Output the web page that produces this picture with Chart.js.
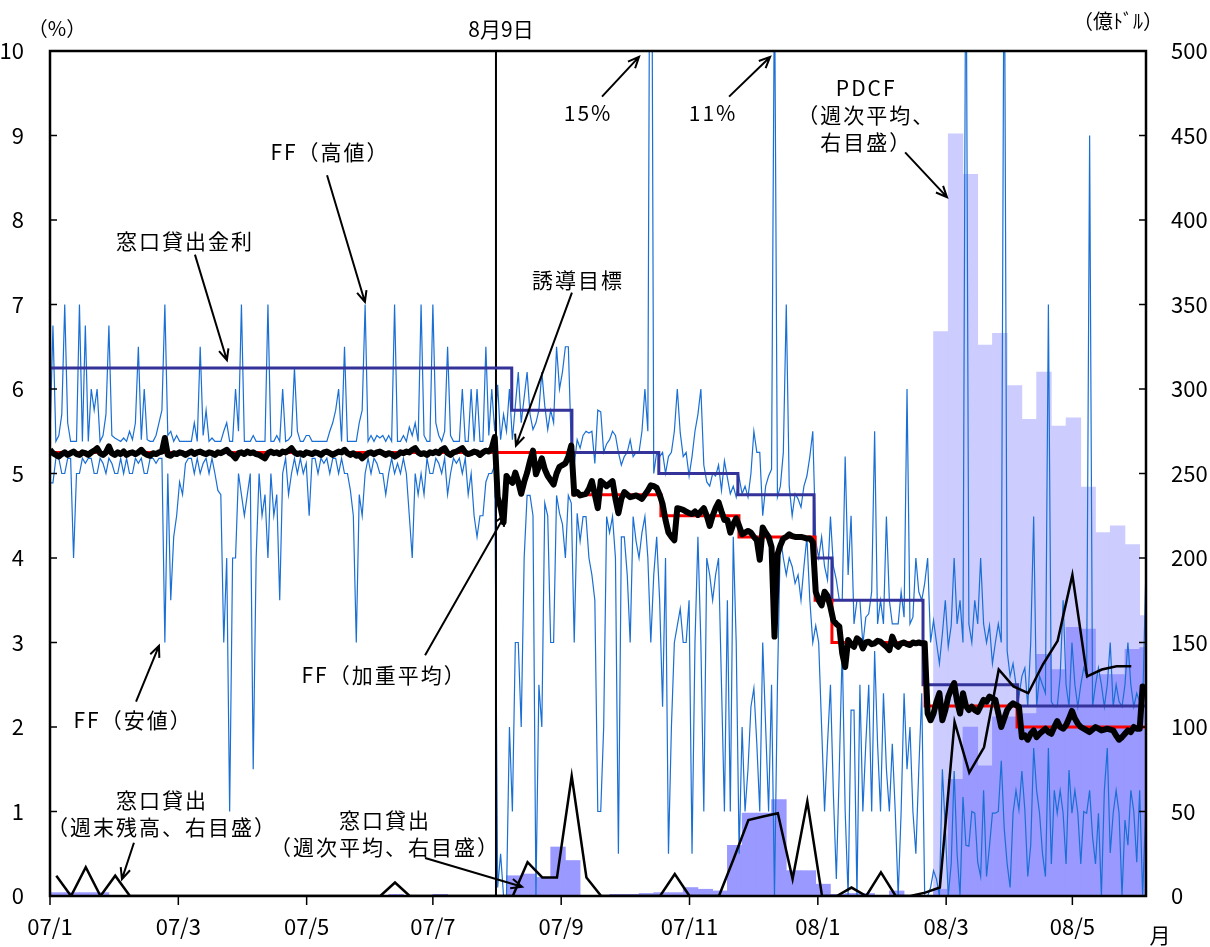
<!DOCTYPE html>
<html>
<head>
<meta charset="utf-8">
<script src="https://cdn.jsdelivr.net/npm/chart.js@4.4.1/dist/chart.umd.min.js"></script>
<style>
  html, body { margin: 0; padding: 0; background: #fff; }
  #wrap { width: 1210px; height: 947px; }
</style>
</head>
<body>
<div id="wrap"><canvas id="chart" width="1210" height="947"></canvas></div>
<script>
// x axis runs in day units; one business day of FF data every DAY units
var DAY = 1.4;
var WEEK = 7;
var AUG9 = 212;

var xTickPos = [0, 61, 122, 182, 243, 304, 365, 426, 486];
var xTickLabels = ['07/1', '07/3', '07/5', '07/7', '07/9', '07/11', '08/1', '08/3', '08/5'];

// FF high (%), daily
var ffHigh = [
  5.43, 6.75, 5.38, 5.45, 5.7, 7.0, 5.6, 5.38, 5.38, 5.38,
  7.0, 5.38, 6.75, 5.38, 6.0, 5.75, 6.0, 5.38, 5.45, 5.7,
  6.75, 5.45, 5.42, 5.4, 5.38, 5.42, 5.38, 5.5, 5.4, 5.6,
  6.5, 5.4, 6.0, 5.4, 5.38, 5.38, 5.45, 5.6, 5.75, 7.0,
  5.45, 5.5, 5.38, 5.45, 5.38, 5.38, 5.38, 5.38, 5.38, 5.6,
  5.38, 6.5, 5.45, 5.75, 5.38, 5.42, 5.38, 5.38, 5.38, 5.5,
  5.6, 5.38, 5.38, 6.0, 5.5, 7.0, 5.38, 5.38, 5.38, 5.45,
  5.38, 5.38, 5.38, 5.38, 7.0, 5.38, 5.38, 5.45, 5.38, 6.0,
  5.38, 5.4, 5.45, 6.25, 5.5, 5.38, 5.38, 5.45, 5.45, 5.38,
  5.38, 5.38, 5.38, 5.38, 5.38, 5.5, 5.6, 5.75, 6.0, 5.38,
  6.5, 5.38, 5.38, 5.38, 5.38, 5.6, 5.75, 7.0, 5.38, 5.45,
  5.38, 5.45, 5.42, 5.45, 5.38, 5.45, 5.38, 7.0, 5.38, 5.38,
  5.45, 5.38, 5.55, 5.45, 5.6, 5.38, 7.0, 5.45, 5.38, 5.38,
  7.0, 5.6, 5.45, 5.38, 5.5, 6.5, 5.45, 5.38, 5.38, 5.38,
  6.0, 5.38, 5.38, 6.0, 5.38, 6.0, 5.38, 5.38, 6.5, 5.45,
  6.0, 5.5, 6.05, 5.4, 5.7, 5.5, 6.0, 5.4, 5.8, 6.2,
  5.6, 5.9, 6.2, 5.7, 5.52, 5.6, 5.75, 6.2, 5.8, 5.52,
  5.75, 5.6, 6.5, 6.0, 6.2, 6.5, 6.5, 5.3, 5.1, 5.4,
  5.3, 5.45, 5.5, 5.48, 5.5, 5.12, 5.75, 5.73, 5.25, 5.35,
  5.4, 5.5, 5.45, 5.25, 5.1, 5.2, 5.25, 5.4, 5.2, 5.25,
  5.25, 5.5, 6.0, 5.5, 15, 5.0, 5.25, 5.2, 5.25, 5.0,
  5.2, 5.25, 5.5, 6.0, 5.48, 5.2, 5.25, 4.97, 5.2, 5.5,
  5.7, 6.0, 5.1, 4.9, 4.85, 5.0, 4.97, 5.1, 4.8, 5.15,
  4.95, 4.76, 4.85, 4.72, 4.95, 4.76, 4.85, 4.72, 5.0, 5.5,
  5.25, 5.25, 4.5, 4.85, 4.97, 5.05, 11, 4.72, 4.85, 5.25,
  7.0, 4.85, 4.5, 4.76, 4.7, 4.6, 4.85, 4.97, 5.2, 5.5,
  4.2, 4.0, 4.25, 3.9, 3.74, 4.49, 3.9, 3.74, 3.5, 3.5,
  5.2, 3.8, 4.5, 3.22, 3.5, 3.5, 2.98, 3.3, 3.34, 3.6,
  5.5, 3.22, 3.5, 3.22, 4.49, 3.5, 3.22, 3.22, 3.22, 3.6,
  3.3, 6.0, 3.22, 3.3, 4.0, 3.6, 3.5, 3.7, 4.0, 3.0,
  3.26, 3.0, 2.75, 3.1, 3.5, 2.95, 3.2, 4.0, 3.22, 3.5,
  3.0, 12, 3.22, 3.0, 3.5, 3.22, 4.0, 3.22, 3.0, 3.2,
  2.75, 3.0, 3.22, 3.0, 12, 2.9, 2.6, 2.75, 2.5, 2.36,
  2.6, 2.7, 2.24, 3.0, 4.49, 2.24, 2.6, 2.5, 2.4, 7.0,
  2.3, 2.24, 2.24, 2.6, 3.5, 2.5, 2.24, 3.0, 2.5, 2.24,
  2.5, 2.7, 2.6, 9.0, 2.24, 2.5, 2.7, 2.5, 2.24, 2.5,
  3.0, 2.24, 2.5, 2.3, 2.24, 2.5, 3.0, 2.5, 2.24, 2.4,
  2.3, 2.24, 3.7
];

// FF low (%), daily
var ffLow = [
  4.89, 4.89, 5.18, 5.18, 5.0, 5.0, 5.18, 5.18, 4.0, 5.0,
  5.0, 5.18, 5.12, 5.18, 5.18, 5.0, 5.0, 5.18, 5.12, 5.0,
  5.18, 5.12, 5.0, 5.0, 5.18, 5.0, 5.18, 5.0, 5.0, 5.18,
  5.12, 5.18, 5.0, 5.0, 5.18, 5.18, 5.12, 5.18, 5.18, 3.0,
  5.0, 3.5, 4.25, 4.5, 4.9, 4.75, 5.12, 5.18, 5.18, 5.0,
  5.18, 5.0, 5.12, 5.18, 5.0, 5.18, 5.0, 4.8, 4.75, 3.0,
  4.0, 1.0, 4.0, 4.0, 5.0, 4.75, 4.5, 4.75, 5.0, 1.5,
  4.0, 5.0, 4.5, 4.75, 4.0, 5.0, 4.5, 4.75, 3.5, 5.0,
  5.18, 4.75, 5.0, 5.18, 5.0, 5.18, 5.0, 5.12, 4.5, 5.18,
  5.18, 5.0, 5.18, 5.12, 5.18, 5.0, 5.18, 5.18, 5.0, 5.18,
  5.0, 5.0, 4.8, 4.5, 3.0, 4.75, 4.5, 5.0, 5.18, 5.0,
  5.18, 5.12, 5.0, 5.0, 4.75, 5.0, 5.18, 5.0, 5.12, 5.0,
  5.18, 5.0, 4.5, 4.0, 5.0, 4.75, 5.0, 4.75, 5.18, 5.0,
  5.0, 5.18, 5.12, 5.0, 5.18, 4.75, 5.0, 5.18, 5.12, 5.18,
  5.0, 5.18, 4.75, 5.0, 4.5, 4.25, 4.5, 4.5, 4.9, 5.0,
  5.0, 5.1, 0.1, 0.5, 0.0, 0.0, 2.0, 1.0, 3.0, 3.0,
  2.0, 4.0, 4.74, 4.74, 4.5, 0.0, 2.5, 2.0, 4.65, 4.5,
  3.0, 3.0, 4.74, 4.53, 4.4, 4.0, 4.74, 4.65, 3.0, 4.53,
  4.2, 4.49, 4.49, 4.0, 3.8, 3.5, 1.0, 1.0, 2.0, 4.49,
  4.3, 4.49, 4.0, 0.5, 4.25, 4.25, 3.8, 3.0, 4.49, 4.2,
  4.0, 4.3, 4.49, 4.0, 3.0, 3.8, 4.25, 3.5, 2.24, 4.0,
  0.5, 2.0, 3.0, 3.2, 3.4, 3.0, 3.0, 3.5, 0.5, 3.0,
  4.25, 3.0, 1.0, 4.0, 3.8, 3.5, 3.8, 4.0, 2.5, 1.0,
  3.5, 1.0, 4.25, 3.0, 0.5, 2.0, 1.0, 1.5, 2.24, 2.46,
  1.8, 1.0, 3.0, 2.0, 1.0, 2.5, 0.0, 2.5, 4.25, 4.0,
  3.8, 4.0, 3.9, 3.7, 3.8, 3.5, 3.9, 4.25, 3.5, 3.0,
  3.2, 3.0, 2.0, 1.0, 1.8, 2.5, 1.2, 0.2, 1.5, 2.95,
  1.0, 0.0, 2.2, 2.2, 0.0, 2.5, 1.0, 1.8, 2.5, 1.0,
  2.9, 1.8, 1.0, 2.4, 1.5, 1.0, 1.8, 1.0, 0.0, 1.0,
  2.4, 1.5, 2.0, 1.0, 0.5, 1.5, 2.4, 0.0, 0.0, 0.1,
  0.3, 0.2, 0.0, 1.5, 0.8, 0.0, 0.38, 1.48, 0.5, 0.0,
  1.17, 0.6, 0.59, 1.0, 0.98, 0.4, 0.23, 1.25, 0.23, 0.59,
  0.98, 0.98, 1.0, 1.6, 0.8, 0.38, 0.1, 0.98, 1.25, 1.02,
  1.48, 1.02, 0.23, 0.6, 1.75, 1.25, 0.98, 0.5, 0.23, 1.75,
  0.38, 1.25, 0.98, 1.25, 0.98, 0.38, 1.49, 0.98, 1.25, 0.98,
  0.38, 1.0, 0.98, 1.25, 0.7, 0.38, 0.98, 0.0, 1.25, 1.75,
  0.51, 0.98, 1.25, 0.98, 0.0, 0.9, 0.6, 1.25, 1.0, 0.4,
  1.25, 0.0, 0.98
];

// FF weighted average (%), daily
var ffAvg = [
  5.28, 5.24, 5.22, 5.2, 5.23, 5.25, 5.22, 5.24, 5.26, 5.23,
  5.22, 5.25, 5.24, 5.22, 5.25, 5.27, 5.3, 5.24, 5.22, 5.25,
  5.32, 5.24, 5.22, 5.25, 5.23, 5.26, 5.22, 5.24, 5.25, 5.23,
  5.25, 5.28, 5.24, 5.22, 5.21, 5.24, 5.23, 5.25, 5.26, 5.42,
  5.22, 5.21, 5.24, 5.23, 5.25, 5.24, 5.22, 5.24, 5.26, 5.23,
  5.25, 5.26, 5.24, 5.23, 5.25, 5.24, 5.22, 5.25, 5.24, 5.26,
  5.28, 5.24, 5.22, 5.18, 5.24, 5.25, 5.23, 5.26, 5.24, 5.25,
  5.23, 5.22, 5.2, 5.18, 5.24, 5.26, 5.24, 5.25, 5.23, 5.26,
  5.25, 5.27, 5.3, 5.25, 5.23, 5.24, 5.22, 5.25, 5.24, 5.23,
  5.25, 5.24, 5.22, 5.25, 5.26, 5.24, 5.22, 5.24, 5.26, 5.25,
  5.28, 5.24, 5.22, 5.24, 5.21, 5.22, 5.18, 5.21, 5.24, 5.25,
  5.23, 5.25, 5.26, 5.24, 5.22, 5.24, 5.23, 5.2, 5.22, 5.25,
  5.24, 5.26, 5.25, 5.28, 5.3, 5.25, 5.23, 5.24, 5.22, 5.25,
  5.24, 5.26, 5.24, 5.28, 5.3, 5.24, 5.22, 5.25, 5.26, 5.28,
  5.3, 5.25, 5.23, 5.24, 5.26, 5.25, 5.22, 5.25, 5.27, 5.26,
  5.3, 5.43, 4.72, 4.6, 4.42, 4.97, 4.92, 4.89, 5.01, 4.9,
  4.76, 4.9, 5.01, 5.15, 5.27, 4.99, 5.08, 5.18, 5.05, 4.97,
  4.92, 4.87, 5.0, 5.08, 5.1, 5.12, 5.2, 5.33, 4.76, 4.78,
  4.74, 4.75, 4.76, 4.82, 4.91, 4.75, 4.59, 4.91, 4.88, 4.85,
  4.88, 4.91, 4.7, 4.53, 4.7, 4.78, 4.75, 4.72, 4.73, 4.74,
  4.72, 4.7, 4.75, 4.8, 4.86, 4.85, 4.83, 4.75, 4.64, 4.45,
  4.3, 4.25, 4.21, 4.59, 4.58, 4.57, 4.55, 4.53, 4.52, 4.55,
  4.51, 4.55, 4.59, 4.5, 4.38, 4.5, 4.59, 4.66, 4.55, 4.45,
  4.45, 4.3, 4.4, 4.47, 4.38, 4.28, 4.3, 4.32, 4.3, 4.25,
  4.21, 3.98, 4.36, 4.3, 4.25, 4.13, 3.07, 4.04, 4.15, 4.23,
  4.25, 4.28, 4.26, 4.25, 4.25, 4.25, 4.24, 4.23, 4.23, 4.19,
  3.6, 3.5, 3.44, 3.6, 3.55, 3.42, 3.26, 3.22, 3.19, 2.87,
  2.71, 3.03, 2.98, 2.95, 3.05, 3.02, 2.93, 3.0, 3.01, 2.98,
  2.99, 3.02, 3.01, 2.98, 2.95, 2.91, 3.07, 2.98, 2.95, 2.99,
  3.0, 2.98, 2.97, 3.0, 2.99, 3.0, 2.99, 2.99, 2.16, 2.08,
  2.16, 2.3, 2.4, 2.08, 2.2, 2.36, 2.45, 2.52, 2.3, 2.16,
  2.4, 2.25, 2.2, 2.24, 2.2, 2.18, 2.25, 2.32, 2.3, 2.36,
  2.34, 2.32, 2.16, 2.0, 2.1, 2.2, 2.25, 2.28, 2.26, 2.24,
  1.88, 1.9, 1.85, 1.92, 1.96, 1.88, 1.92, 1.95, 1.98, 1.94,
  1.92, 2.0, 2.07, 2.0, 1.98, 2.02, 2.1, 2.19, 2.1, 2.04,
  2.0, 1.98, 1.96, 1.94, 1.97, 2.0, 1.98, 1.96, 1.97, 1.98,
  1.97, 1.96, 1.9, 1.85, 1.88, 1.92, 1.96, 1.94, 2.0, 1.98,
  1.98, 2.48, 2.45
];

// policy rates: value holds from each change day until the next
var targetDays = [0, 248.6, 290.4, 327.5, 363.7, 371.7, 416, 459.7, 521];
var targetRate = [5.25, 4.75, 4.5, 4.25, 3.5, 3.0, 2.25, 2.0, 2.0];
var discountDays = [0, 219.5, 248.1, 289.4, 327, 363.2, 371.7, 415, 460, 521];
var discountRate = [6.25, 5.75, 5.25, 5.0, 4.75, 4.0, 3.5, 2.5, 2.25, 2.25];

// weekly, 億ドル (right axis)
var windowAvg = [
  2, 2, 2, 2, 0, 0, 0, 0, 0, 0,
  0, 0, 0, 0, 0, 0, 0, 0, 0, 0,
  0, 0, 0, 1, 0, 0, 1, 0, 0, 0,
  0, 12, 13, 11, 29, 21, 0, 0, 1, 1,
  1.5, 2, 2, 5, 4, 3, 30, 49, 49, 57,
  15, 15, 7, 1, 1.5, 1.5, 0, 3, 0, 0,
  4, 69, 100, 77, 106, 106, 108, 143, 134, 159,
  158, 131, 131, 146, 147
];
var windowEnd = [
  12, 0, 17, 0, 12, 0, 0, 0, 0, 0,
  0, 0, 0, 0, 0, 0, 0, 0, 0, 0,
  0, 0, 0, 8, 0, 0, 0, 0, 0, 0,
  0, 0, 20, 11, 11, 71, 11, 0, 0, 0,
  0, 0, 13, 0, 0, 0, 22, 45, 47, 49,
  10, 56, 0, 0, 5, 0, 14, 0, 0, 2,
  5, 103, 73, 88, 134, 124, 120, 137, 151, 190,
  130, 134, 136, 136, null
];
var pdcf = [
  0, 0, 0, 0, 0, 0, 0, 0, 0, 0,
  0, 0, 0, 0, 0, 0, 0, 0, 0, 0,
  0, 0, 0, 0, 0, 0, 0, 0, 0, 0,
  0, 0, 0, 0, 0, 0, 0, 0, 0, 0,
  0, 0, 0, 0, 0, 0, 0, 0, 0, 0,
  0, 0, 0, 0, 0, 0, 0, 0, 0, 0,
  334, 451, 427, 326, 333, 302, 282, 310, 278, 283,
  242, 215, 219, 208, 166
];

function daily(arr) {
  return arr.map(function (v, i) { return { x: i * DAY, y: v }; });
}
function weeklyBar(arr) {
  return arr.map(function (v, w) { return { x: w * WEEK + 3.5, y: v }; });
}
function weeklyLine(arr) {
  return arr.map(function (v, w) { return { x: w * WEEK + 3, y: v }; });
}
function steps(days, vals) {
  return days.map(function (d, i) { return { x: d, y: vals[i] }; });
}

var FONT = '"Noto Sans CJK JP", "Noto Sans", sans-serif';

// text labels with arrows, placed in data units (x: days, y: % on left axis)
var notes = [
  { text: ['窓口貸出金利'], at: [64.2, 7.75], from: [68.9, 7.59], to: [84.1, 6.34] },
  { text: ['FF（高値）'], at: [133.1, 8.8], from: [131.7, 8.53], to: [149.7, 7.03] },
  { text: ['誘導目標'], at: [251, 7.29], from: [248.1, 7.14], to: [221.5, 5.33] },
  { text: ['15%'], at: [255.8, 9.27], from: [262.4, 9.46], to: [280, 9.93] },
  { text: ['11%'], at: [315.2, 9.27], from: [322.8, 9.46], to: [342.3, 9.93] },
  { text: ['PDCF', '（週次平均、', '右目盛）'], at: [388, 9.56], from: [406.5, 8.8], to: [426.4, 8.27] },
  { text: ['FF（安値）'], at: [39.5, 2.08], from: [40.9, 2.3], to: [51.8, 2.96] },
  { text: ['FF（加重平均）'], at: [158.8, 2.62], from: [178.3, 2.85], to: [216.3, 4.51] },
  { text: ['窓口貸出', '（週末残高、右目盛）'], at: [53.2, 1.14], from: [39.9, 0.63], to: [34.2, 0.2] },
  { text: ['窓口貸出', '（週次平均、右目盛）'], at: [159.3, 0.9], from: [178.3, 0.45], to: [224.4, 0.11] }
];

function arrow(ctx, x1, y1, x2, y2) {
  ctx.beginPath();
  ctx.moveTo(x1, y1);
  ctx.lineTo(x2, y2);
  var a = Math.atan2(y2 - y1, x2 - x1);
  var h = 12;
  ctx.moveTo(x2 - h * Math.cos(a - 0.42), y2 - h * Math.sin(a - 0.42));
  ctx.lineTo(x2, y2);
  ctx.lineTo(x2 - h * Math.cos(a + 0.42), y2 - h * Math.sin(a + 0.42));
  ctx.stroke();
}

var overlay = {
  id: 'overlay',
  afterDatasetsDraw: function (chart) {
    var ctx = chart.ctx, a = chart.chartArea;
    var xs = chart.scales.x, ys = chart.scales.y, ys2 = chart.scales.y2;
    ctx.save();
    ctx.strokeStyle = '#000';
    ctx.fillStyle = '#000';

    // tick marks
    ctx.lineWidth = 1.5;
    ctx.beginPath();
    for (var v = 1; v < 10; v++) {
      var py = ys.getPixelForValue(v);
      ctx.moveTo(a.left, py); ctx.lineTo(a.left + 7, py);
    }
    for (var r = 50; r < 500; r += 50) {
      var py2 = ys2.getPixelForValue(r);
      ctx.moveTo(a.right - 7, py2); ctx.lineTo(a.right, py2);
    }
    xTickPos.forEach(function (t) {
      var px = xs.getPixelForValue(t);
      ctx.moveTo(px, a.bottom); ctx.lineTo(px, a.bottom + 9);
    });
    ctx.stroke();

    // frame
    ctx.lineWidth = 2.5;
    ctx.strokeRect(a.left, a.top, a.right - a.left, a.bottom - a.top);

    // notes
    ctx.font = '21px ' + FONT;
    ctx.letterSpacing = '2px';
    ctx.textAlign = 'center';
    ctx.textBaseline = 'middle';
    ctx.lineWidth = 2;
    notes.forEach(function (n) {
      var tx = xs.getPixelForValue(n.at[0]);
      var ty = ys.getPixelForValue(n.at[1]);
      n.text.forEach(function (line, k) { ctx.fillText(line, tx, ty + k * 27); });
      arrow(ctx, xs.getPixelForValue(n.from[0]), ys.getPixelForValue(n.from[1]),
            xs.getPixelForValue(n.to[0]), ys.getPixelForValue(n.to[1]));
    });
    ctx.letterSpacing = '0px';

    ctx.fillText('8月9日', xs.getPixelForValue(AUG9) + 5, a.top - 22);
    ctx.font = '20px ' + FONT;
    ctx.fillText('（%）', a.left + 7, a.top - 23);
    ctx.fillText('（億ﾄﾞﾙ）', a.right - 28, a.top - 30);
    ctx.font = '21px ' + FONT;
    ctx.fillText('月', a.right + 14, a.bottom + 39);
    ctx.restore();
  }
};

var tickFont = { family: FONT, size: 22 };

new Chart(document.getElementById('chart').getContext('2d'), {
  type: 'line',
  data: {
    datasets: [
      { type: 'bar', label: 'PDCF', data: weeklyBar(pdcf), yAxisID: 'y2',
        backgroundColor: '#ccccff', grouped: false, barPercentage: 1, categoryPercentage: 1, order: 10, clip: 0 },
      { type: 'bar', label: '窓口貸出（週次平均）', data: weeklyBar(windowAvg), yAxisID: 'y2',
        backgroundColor: '#9999ff', grouped: false, barPercentage: 1, categoryPercentage: 1, order: 9, clip: 0 },
      { label: 'FF（高値）', data: daily(ffHigh), yAxisID: 'y',
        borderColor: '#1a6fd4', borderWidth: 1.2, order: 8, clip: 0 },
      { label: 'FF（安値）', data: daily(ffLow), yAxisID: 'y',
        borderColor: '#1a6fd4', borderWidth: 1.2, order: 7, clip: 0 },
      { label: '8月9日', data: [{ x: AUG9, y: 0 }, { x: AUG9, y: 10 }], yAxisID: 'y',
        borderColor: '#000', borderWidth: 2, order: 6 },
      { label: '窓口貸出金利', data: steps(discountDays, discountRate), yAxisID: 'y', stepped: 'before',
        borderColor: '#333399', borderWidth: 3, order: 5 },
      { label: '誘導目標', data: steps(targetDays, targetRate), yAxisID: 'y', stepped: 'before',
        borderColor: '#ff0000', borderWidth: 3, order: 4 },
      { label: 'FF（加重平均）', data: daily(ffAvg), yAxisID: 'y',
        borderColor: '#000', borderWidth: 6, borderJoinStyle: 'round', order: 3 },
      { label: '窓口貸出（週末残高）', data: weeklyLine(windowEnd), yAxisID: 'y2',
        borderColor: '#000', borderWidth: 2.5, order: 2 }
    ]
  },
  options: {
    responsive: false,
    animation: false,
    layout: { padding: { top: 51, left: 0, right: 0, bottom: 0 } },
    plugins: { legend: { display: false }, tooltip: { enabled: false } },
    elements: { point: { radius: 0 }, line: { tension: 0, fill: false } },
    scales: {
      x: {
        type: 'linear', min: 0, max: 521, offset: false,
        grid: { display: false }, border: { display: false },
        afterBuildTicks: function (s) { s.ticks = xTickPos.map(function (v) { return { value: v }; }); },
        afterFit: function (s) { s.height = 51; },
        ticks: { autoSkip: false, maxRotation: 0, padding: 9, color: '#000', font: tickFont,
                 callback: function (v, i) { return xTickLabels[i]; } }
      },
      y: {
        position: 'left', min: 0, max: 10,
        grid: { display: false }, border: { display: false },
        afterFit: function (s) { s.width = 50; },
        ticks: { stepSize: 1, padding: 18, color: '#000', font: tickFont }
      },
      y2: {
        position: 'right', min: 0, max: 500,
        grid: { display: false }, border: { display: false },
        afterFit: function (s) { s.width = 64; },
        ticks: { stepSize: 50, padding: 17, color: '#000', font: tickFont }
      }
    }
  },
  plugins: [overlay]
});
</script>
</body>
</html>
